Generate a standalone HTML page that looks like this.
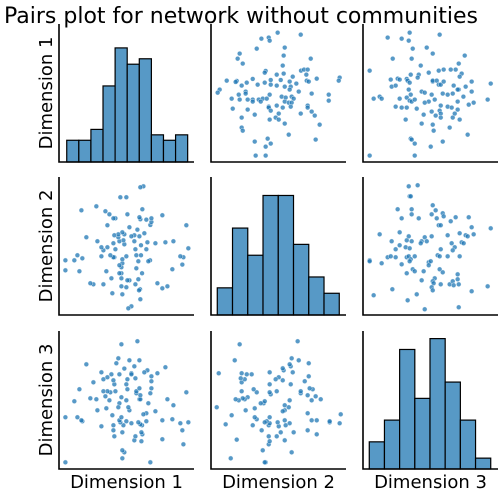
<!DOCTYPE html>
<html><head><meta charset="utf-8">
<style>
html,body{margin:0;padding:0;background:#fff;}
svg{display:block;}
text{font-family:"DejaVu Sans","Liberation Sans",sans-serif;fill:#000;}
</style></head>
<body>
<svg id="chart" width="503" height="498" viewBox="0 0 503 498" xmlns="http://www.w3.org/2000/svg">
<text x="241" y="23" font-size="22" text-anchor="middle">Pairs plot for network without communities</text>
</svg>
<script>
// ---- data ----
const dimLabels = ["Dimension 1","Dimension 2","Dimension 3"];
// histogram counts per dimension
const hist1Counts = [4,4,6,14,21,18,19,5,4,5];
const hist2Counts = [5,16,11,22,22,13,7,4];
const hist3Counts = [5,9,22,13,24,16,9,2];
const histRanges = [[5.8,96.5],[4.7,96.2],[4.7,95.8]];
const histYMax = 25.4;
// scatter: Dimension 2 (x) vs Dimension 1 (y)
const s12Dim2 = [50,67.3,37.8,43.3,44,34.3,55.3,21.5,54.5,20,74.8,23.8,53.8,41,40.3,67.5,69.8,72.5,49.3,54.5,71.5,61.3,96.5,95.8,11.8,19.3,18.5,31.3,40.3,44.8,52.3,59,64,71.8,73.3,79.3,6.5,5,23,26.8,35,44.8,49.3,55.3,59.8,59,65.8,75.5,20.8,26,26,44,53,56,60.5,62,15.5,21.5,27.5,31.3,31.3,35.8,38.8,41.8,55.3,58.3,60.5,88.3,88.3,16.3,27.5,37.3,43.3,43.3,44.8,49.3,53.8,59.8,72.5,72.5,75.5,77.8,67.3,32.8,50.8,23,44,48.5,50.8,55.3,81.5,23,23.8,58.3,42.5,78.5,32.8,44.8,41,33.5,41];
const s12Dim1 = [97,95.5,92.5,93.3,91,85,85.8,81.3,79.8,77.5,77.5,73.8,72.3,68.3,67,68.5,69.3,69.3,65.5,66.3,65.5,64,63.3,61,61,60.8,60,62.3,59.5,61.5,61.5,60.3,58.8,61,60.3,62.5,54.3,52,57.3,59.5,58,58,57.3,56.5,56.5,54.3,52.8,51.3,50.5,52.8,51.3,50.5,49,48.3,49,47.5,47.5,46.8,46.8,46.8,45.3,46.8,47.5,47.5,45.3,44.5,44.5,50.5,46,40,39.3,45.3,41.5,40.8,38.5,42.3,40.8,41.5,42.3,40.8,37.8,34.8,36.3,35.5,36.3,33.3,31.8,33.3,31.8,28.8,28,25.8,23.5,20.5,17.5,16.8,15.3,13.8,11.5,4.8,4.8];
// scatter: Dimension 3 (x) vs Dimension 1 (y)
const s13Dim3 = [35,57.5,18.5,29,34.3,37.3,47.8,52.3,76.3,22.3,36.5,71.8,43.3,5,56.8,60.5,65.8,69.5,49.3,35.8,74,41.8,72.5,41,20.8,26,27.5,32.8,33.5,35,52.3,52.3,55.3,56.8,58.3,60.5,95.8,81.5,21.5,24.5,34.3,68,71.8,77,81.5,44,46.3,35.8,51.5,59.8,63.5,67.3,71,75.3,8,12.5,14,27.5,32.8,35,36.5,38.8,49.3,53.8,46.3,58.3,71,79.3,83,93.5,24.5,29,32.8,40.3,63.5,66.5,71,51.5,57.5,58.3,68.8,45.5,54.5,58.3,67.3,72.5,32,44,52.3,65,53,78.5,35.8,36.5,38.8,59.8,50.8,5,38.8];
const s13Dim1 = [97,95.5,93.3,92.5,91,85,85.8,81.3,79.8,77.5,77.5,73.8,72.3,68.5,68.5,69.3,69.3,69.3,67,65.5,66.3,65.5,64,63.3,61.8,62.5,61.8,62.3,61,59.5,60.3,61,61,58,58,60.3,58.8,60.3,56.5,57.3,54.3,57.3,54.3,56.5,52.8,52.8,52,50.5,50.5,51.3,50.5,51.3,54.3,49,47.5,49,47.5,47.5,48.3,46,45.3,46.8,45.3,46.8,44.5,42.3,45.3,43,44.5,46.8,41.5,40.8,40.8,40,41.5,40.8,39.3,37.8,38.5,36.3,36.3,35.5,34.8,33.3,33.3,31.8,31.8,28.8,28,25.8,23.5,20.5,17.5,16.8,13.8,15.3,11.5,4.8,4.8];
// scatter: Dimension 3 (x) vs Dimension 2 (y)
const s23Dim3 = [34.3,41,35,35.8,26,36.5,52.3,54.5,36.5,51.5,59.8,60.5,29,41.8,55.3,69.5,79.3,65.8,56.8,58.3,81.5,95.8,12.5,27.5,34.3,46.3,51.5,63.5,72.5,77,78.5,83,21.5,32.8,36.5,44,43.3,47.8,27.5,32,35,24.5,66.5,74,75.5,68.8,67.3,58.3,56,57.5,63.5,72.5,5,5,14,18.5,20.8,24.5,32.8,34.3,38.8,35.8,35,29,49.3,50.8,49.3,37.3,38.8,32.8,45.5,57.5,59.8,71,71,53.8,44,52.3,53,51.5,52.3,58.3,65,67.3,68,71.8,93.5,81.5,22,8,40.3,33.5,46.3,71.8];
const s23Dim2 = [96.5,97.3,89,89,79.3,79.3,82.3,78.5,75.5,75.5,76.3,74,72.5,72.5,72.5,73.3,73.3,70.3,67.3,67.3,65.8,65,60.5,62,59,58.3,59,59.8,61.3,59.8,59,60.5,55.3,56,55.3,55.3,53.8,55.3,52.3,50.8,50,49.3,53.8,54.5,53.8,50.8,48.5,49.3,44.8,44,44,44,41,40.3,38.8,43.3,44,43.3,43.3,44,44,41.8,40.3,38,39.5,40.3,37.3,34.3,32.8,31.3,32.8,34.3,32,30.5,26.8,27.5,26,25.3,23.8,20.8,18.5,23,23,25.3,22.3,23,21.5,17.8,19.3,14.8,15.5,11,4.3,5.8];

// ---- layout ----
const svg = document.getElementById('chart');
const NS = 'http://www.w3.org/2000/svg';
const lefts = [59,211,363];
const bottoms = [162,315,469];
const W = 135, H = 138;
const unit = 4/3; // px per data unit in scatter/hist x
function xScale(col, v){ return lefts[col] + v*unit; }
function yScale(row, v){ return bottoms[row] - v*unit; }
function hyScale(row, c){ return bottoms[row] - c/histYMax*H; }

function mk(tag, attrs){ const e=document.createElementNS(NS,tag); for(const k in attrs) e.setAttribute(k,attrs[k]); svg.appendChild(e); return e; }

const histCounts = [hist1Counts, hist2Counts, hist3Counts];
const panels = {
  '0-1':[s12Dim2,s12Dim1], '0-2':[s13Dim3,s13Dim1], '1-2':[s23Dim3,s23Dim2],
  '1-0':[s12Dim1,s12Dim2], '2-0':[s13Dim1,s13Dim3], '2-1':[s23Dim2,s23Dim3]
};

for(let r=0;r<3;r++){
  for(let c=0;c<3;c++){
    if(r===c){
      const counts = histCounts[r];
      const [lo,hi] = histRanges[r];
      const bw = (hi-lo)/counts.length;
      counts.forEach((cnt,i)=>{
        const x0 = xScale(c, lo+i*bw), x1 = xScale(c, lo+(i+1)*bw);
        const y = hyScale(r,cnt);
        const b = mk('rect',{x:x0,y:y,width:x1-x0,height:bottoms[r]-y,fill:'#5799c6',stroke:'#000','stroke-width':1.2});
        
        
      });
    } else {
      const [xs,ys] = panels[r+'-'+c];
      xs.forEach((v,i)=>{
        const p = mk('circle',{cx:xScale(c,v),cy:yScale(r,ys[i]),r:2.4,fill:'#1f77b4','fill-opacity':0.75,stroke:'#fff','stroke-width':0.4});
        
        
      });
    }
    const ax = mk('path',{d:`M${lefts[c]},${bottoms[r]-H} V${bottoms[r]} H${lefts[c]+W}`,fill:'none',stroke:'#000','stroke-width':1.6});
    
    
  }
}
for(let i=0;i<3;i++){
  const xl = mk('text',{x:lefts[i]+W/2,y:488,'font-size':18,'text-anchor':'middle'});
  xl.textContent = dimLabels[i];
  
  
  const cy = bottoms[i]-H/2;
  const yl = mk('text',{x:0,y:0,'font-size':18,'text-anchor':'middle',transform:`translate(52,${cy}) rotate(-90)`});
  yl.textContent = dimLabels[i];
  
  
}
</script>
</body></html>
